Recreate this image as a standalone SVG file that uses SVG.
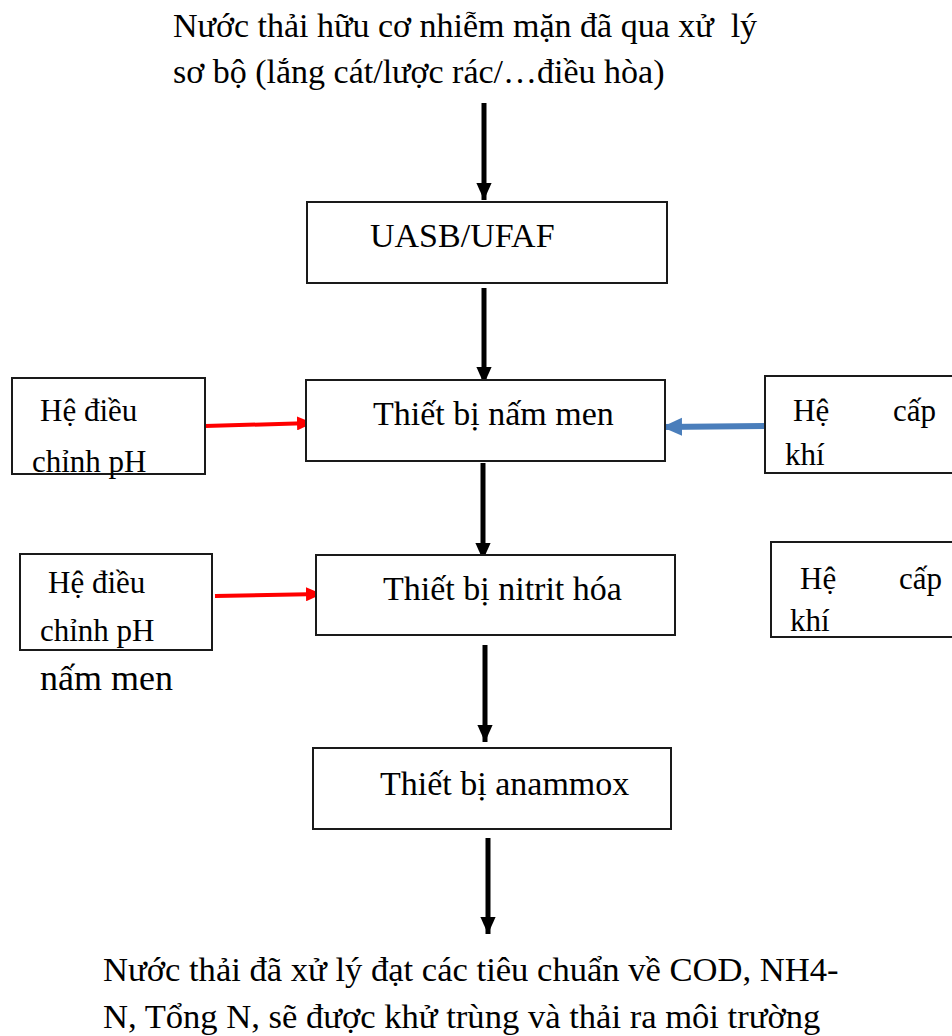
<svg xmlns="http://www.w3.org/2000/svg" width="952" height="1036" viewBox="0 0 952 1036">
<style>
text{font-family:"Liberation Serif","Times New Roman",serif;fill:#000;}
.t{font-size:34px;}
.s{font-size:31px;}
.b{font-size:34.6px;}
.box{fill:#fff;stroke:#1a1a1a;stroke-width:2;}
.blk{stroke:#000;stroke-width:5;fill:none;}
.red{stroke:#ff0000;stroke-width:4;fill:none;}
.blue{stroke:#4a7ebb;stroke-width:6;fill:none;}
</style>
<defs>
<marker id="hb" markerUnits="userSpaceOnUse" markerWidth="18" markerHeight="20" viewBox="0 0 20 18" refX="19" refY="9" orient="auto"><path d="M0,0.5 L19,9 L0,17.5 Z" fill="#000"/></marker>
<marker id="hr" markerUnits="userSpaceOnUse" markerWidth="16" markerHeight="14" viewBox="0 0 16 14" refX="15" refY="7" orient="auto"><path d="M0,0 L16,7 L0,14 Z" fill="#ff0000"/></marker>
<marker id="hl" markerUnits="userSpaceOnUse" markerWidth="20" markerHeight="20" viewBox="0 0 20 20" refX="19" refY="10" orient="auto"><path d="M0,1 L20,10 L0,19 Z" fill="#4a7ebb"/></marker>
</defs>

<g id="input">
<text class="t" x="173" y="37" xml:space="preserve">Nước thải hữu cơ nhiễm mặn đã qua xử  lý</text>
<text class="t" x="173" y="83">sơ bộ (lắng cát/lược rác/…điều hòa)</text>
</g>

<g id="connectors">
<line class="blk" x1="484" y1="103" x2="484" y2="200" marker-end="url(#hb)"/>
<line class="blk" x1="484" y1="288" x2="484" y2="384" marker-end="url(#hb)"/>
<line class="blk" x1="483" y1="463" x2="483" y2="560" marker-end="url(#hb)"/>
<line class="blk" x1="485" y1="645" x2="485" y2="742" marker-end="url(#hb)"/>
<line class="blk" x1="488" y1="838" x2="488" y2="934" marker-end="url(#hb)"/>
<line class="red" x1="205" y1="426" x2="312" y2="423" marker-end="url(#hr)"/>
<line class="red" x1="215" y1="596" x2="321" y2="594" marker-end="url(#hr)"/>
<line class="blue" x1="767" y1="426" x2="663" y2="427" marker-end="url(#hl)"/>
</g>

<g id="uasb">
<rect class="box" x="307" y="202" width="360" height="81"/>
<text class="t" x="370" y="247">UASB/UFAF</text>
</g>

<g id="nammen">
<rect class="box" x="306" y="380" width="359" height="81"/>
<text class="t" x="373" y="425">Thiết bị nấm men</text>
</g>

<g id="ph1">
<rect class="box" x="12" y="378" width="193" height="96"/>
<text class="s" x="40" y="421">Hệ điều</text>
<text class="s" x="32" y="472">chỉnh pH</text>
</g>

<g id="khi1">
<rect class="box" x="765" y="376" width="192" height="97"/>
<text class="s" x="793" y="421">Hệ</text>
<text class="s" x="893" y="421">cấp</text>
<text class="s" x="785" y="465">khí</text>
</g>

<g id="nitrit">
<rect class="box" x="316" y="555" width="359" height="80"/>
<text class="t" x="383" y="600">Thiết bị nitrit hóa</text>
</g>

<g id="ph2">
<rect class="box" x="20" y="554" width="192" height="96"/>
<text class="s" x="48" y="593">Hệ điều</text>
<text class="s" x="40" y="641">chỉnh pH</text>
<text class="t" x="40" y="690" style="font-size:36px">nấm men</text>
</g>

<g id="khi2">
<rect class="box" x="771" y="542" width="186" height="95"/>
<text class="s" x="800" y="589">Hệ</text>
<text class="s" x="899" y="589">cấp</text>
<text class="s" x="790" y="631">khí</text>
</g>

<g id="anammox">
<rect class="box" x="313" y="748" width="358" height="81"/>
<text class="t" x="380" y="795">Thiết bị anammox</text>
</g>

<g id="output">
<text class="b" x="103" y="981">Nước thải đã xử lý đạt các tiêu chuẩn về COD, NH4-</text>
<text class="b" x="103" y="1028">N, Tổng N, sẽ được khử trùng và thải ra môi trường</text>
</g>
</svg>
